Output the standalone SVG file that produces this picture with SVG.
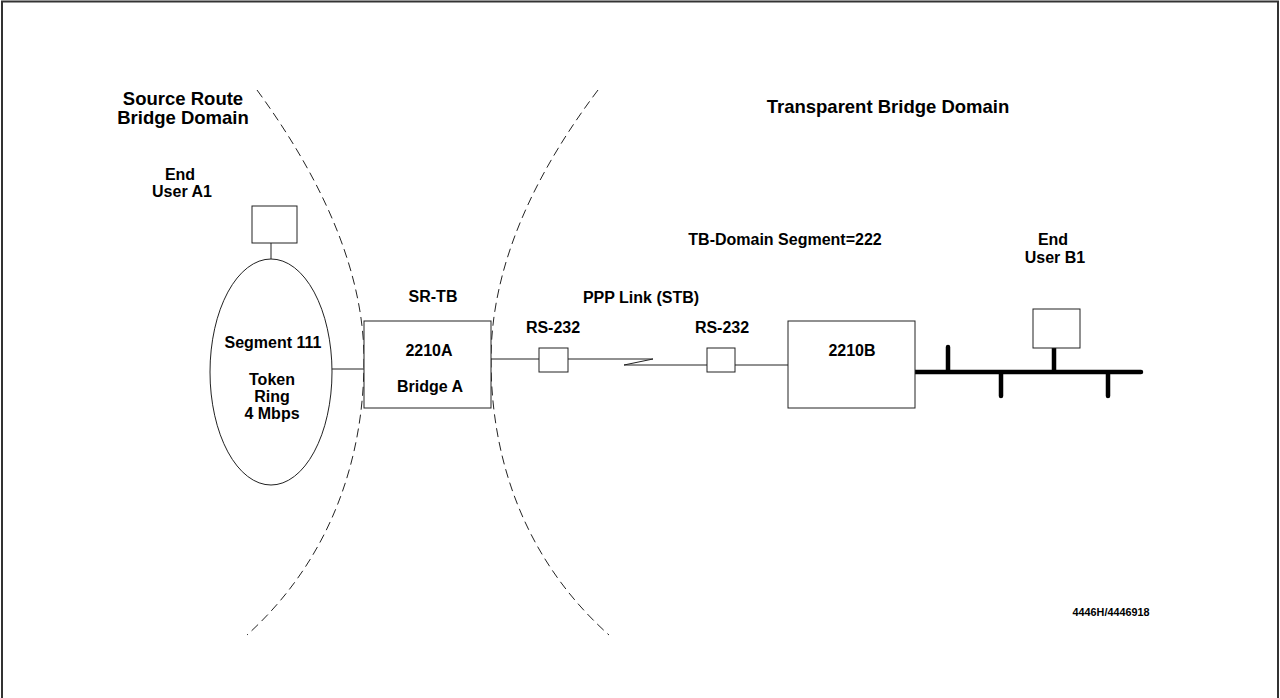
<svg xmlns="http://www.w3.org/2000/svg" width="1280" height="698" viewBox="0 0 1280 698">
<style>
  text { font-family: "Liberation Sans", Arial, sans-serif; font-weight: bold; fill: #000; text-anchor: middle; }
  .title { font-size: 18.5px; }
  .lbl { font-size: 16px; }
  .small { font-size: 11px; }
  .box { fill: #fff; stroke: #222; stroke-width: 1; }
  .ln { fill: none; stroke: #222; stroke-width: 1; }
  .dash { fill: none; stroke: #222; stroke-width: 1; stroke-dasharray: 9 5; }
  .bus { fill: none; stroke: #000; stroke-width: 4.5; stroke-linecap: round; }
</style>
<rect x="0" y="0" width="1280" height="698" fill="#fff"/>
<path d="M2,698 V1.5 H1278 V698" fill="none" stroke="#333" stroke-width="2"/>

<g id="domain-boundaries">
  <path class="dash" d="M257,90 C330,190 364,280 364,360 C364,460 330,560 247,635"/>
  <path class="dash" d="M598,90 C515,200 491,290 491,360 C491,460 525,560 609,635"/>
</g>

<g id="labels">
  <text class="title" x="183" y="105">Source Route</text>
  <text class="title" x="183" y="124">Bridge Domain</text>
  <text class="title" x="888" y="113">Transparent Bridge Domain</text>
  <text class="lbl" x="785" y="245">TB-Domain Segment=222</text>
  <text class="lbl" x="641" y="303">PPP Link (STB)</text>
  <text class="small" x="1111" y="616" textLength="77" lengthAdjust="spacingAndGlyphs">4446H/4446918</text>
</g>

<g id="connectors">
  <line class="ln" x1="271" y1="243" x2="271" y2="259"/>
  <line class="ln" x1="332" y1="369" x2="364" y2="369"/>
  <path class="ln" d="M491,359 H539 M568,359 H653 L624,365 H707 M735,365 H788"/>
  <path class="bus" d="M913,372 H1141 M948,347 V372 M1054,348 V372 M1001,372 V396 M1108,372 V396"/>
</g>

<g id="end-user-a1">
  <text class="lbl" x="180" y="180">End</text>
  <text class="lbl" x="182" y="197">User A1</text>
  <rect class="box" x="252" y="206" width="45" height="37"/>
</g>

<g id="token-ring">
  <ellipse class="box" cx="271" cy="372" rx="61" ry="113"/>
  <text class="lbl" x="273" y="348">Segment 111</text>
  <text class="lbl" x="272" y="385">Token</text>
  <text class="lbl" x="272" y="402">Ring</text>
  <text class="lbl" x="272" y="419">4 Mbps</text>
</g>

<g id="bridge-2210a">
  <text class="lbl" x="433" y="302">SR-TB</text>
  <rect class="box" x="364" y="321" width="127" height="87"/>
  <text class="lbl" x="429" y="356">2210A</text>
  <text class="lbl" x="430" y="392">Bridge A</text>
</g>

<g id="rs232-a">
  <text class="lbl" x="553" y="333">RS-232</text>
  <rect class="box" x="539" y="348" width="29" height="24"/>
</g>

<g id="rs232-b">
  <text class="lbl" x="722" y="333">RS-232</text>
  <rect class="box" x="707" y="348" width="28" height="24"/>
</g>

<g id="bridge-2210b">
  <rect class="box" x="788" y="321" width="127" height="87"/>
  <text class="lbl" x="852" y="356">2210B</text>
</g>

<g id="end-user-b1">
  <text class="lbl" x="1053" y="245">End</text>
  <text class="lbl" x="1055" y="263">User B1</text>
  <rect class="box" x="1033" y="309" width="47" height="39"/>
</g>
</svg>
